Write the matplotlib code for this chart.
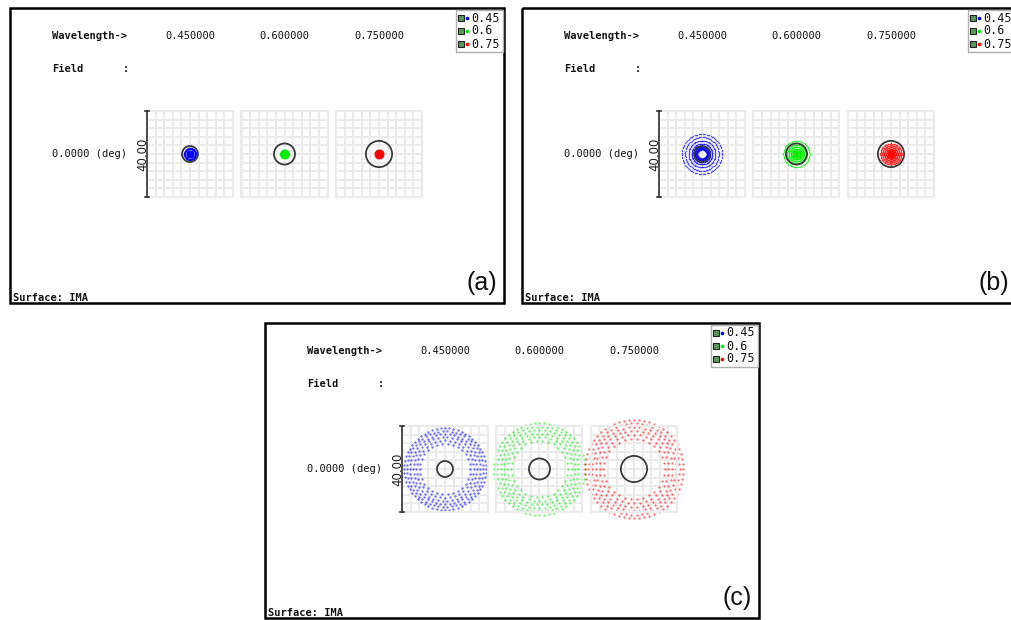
import numpy as np
import matplotlib
matplotlib.use("Agg")
import matplotlib.pyplot as plt
from matplotlib.patches import Rectangle, Circle

W, H = 1012, 620

# === Data ===
wavelengths = [0.45, 0.6, 0.75]
wave_labels = ["0.450000", "0.600000", "0.750000"]
legend_labels = ["0.45", "0.6", "0.75"]
spot_colors = ["#0000ff", "#00ee00", "#ff0000"]
airy_radius = [3.7, 4.9, 6.1]          # um
box_size = 40.0                         # um, scale bar value
panel_names = ["(a)", "(b)", "(c)"]

# ring radii (um) of each spot, per panel and wavelength
rings_a_blue = [2.7, 2.4, 1.5, 0.8, 0.2]
rings_a_green = [1.9, 1.6, 1.3, 1.0, 0.7, 0.4, 0.1]
rings_a_red = [1.9, 1.6, 1.3, 0.9, 0.6]
rings_b_blue = [9.3, 7.8, 6.2, 4.8, 3.8, 3.3, 2.7, 2.2]
rings_b_green = [6.1, 4.3, 3.4, 2.5, 1.7, 0.9, 0.3]
rings_b_red = [4.9, 4.0, 3.1, 2.2, 1.4, 0.7, 0.2]
rings_c_blue = [11.8, 13.3, 14.8, 16.2, 17.6, 19.0]
rings_c_green = [13.2, 14.9, 16.5, 18.1, 19.7, 21.3]
rings_c_red = [14.2, 16.0, 17.8, 19.5, 21.2, 22.9]
# points per ring
count_dense = 90
counts_c = [30, 36, 42, 48, 54, 60]

# === Layout (pixels) ===
origins = [(10, 8), (522, 8), (265, 323)]
PW, PH = 494, 295

fig = plt.figure(figsize=(W / 100, H / 100), dpi=100)
bg = fig.add_axes([0, 0, 1, 1])
bg.set_xlim(0, W)
bg.set_ylim(H, 0)
bg.axis("off")
bg.set_zorder(10)

mono = "DejaVu Sans Mono"


def spot_axes(px, py, size):
    ax = fig.add_axes([px / W, 1 - (py + size) / H, size / W, size / H])
    half = box_size / 2
    ax.set_xlim(-half, half)
    ax.set_ylim(-half, half)
    ticks = np.linspace(-half, half, 11)
    ax.set_xticks(ticks)
    ax.set_yticks(ticks)
    ax.tick_params(length=0, labelbottom=False, labelleft=False)
    ax.grid(True, color="#ebebeb", lw=1.5)
    for s in ax.spines.values():
        s.set_color("#ebebeb")
        s.set_linewidth(1.5)
    ax.patch.set_alpha(0)
    ax.set_axisbelow(True)
    return ax


def draw_spot(ax, radii, counts, color, airy, ms, alpha):
    for r, n in zip(radii, counts):
        ang = np.arange(n) * 2 * np.pi / n
        ax.plot(r * np.cos(ang), r * np.sin(ang), ls="none", marker="o",
                ms=ms, mew=0, color=color, alpha=alpha, clip_on=False)
    ax.add_patch(Circle((0, 0), airy, fill=False, ec="#3a3a3a", lw=1.3,
                        clip_on=False, zorder=5))


panel_rings = [
    [rings_a_blue, rings_a_green, rings_a_red],
    [rings_b_blue, rings_b_green, rings_b_red],
    [rings_c_blue, rings_c_green, rings_c_red],
]

for p, (ox, oy) in enumerate(origins):
    # border
    bg.add_patch(Rectangle((ox, oy), PW, PH, fill=False, ec="black", lw=1.8))

    bg.text(ox + 42, oy + 28, "Wavelength->", family=mono, fontsize=7.5,
            fontweight="bold", va="center", ha="left", color="#111")
    for i, lab in enumerate(wave_labels):
        bg.text(ox + 180 + 94.5 * i, oy + 28, lab, family=mono, fontsize=7.5,
                va="center", ha="center", color="#111")
    bg.text(ox + 42, oy + 61, "Field", family=mono, fontsize=7.5,
            fontweight="bold", va="center", ha="left", color="#111")
    bg.text(ox + 116, oy + 61, ":", family=mono, fontsize=7.5,
            fontweight="bold", va="center", ha="center", color="#111")
    bg.text(ox + 42, oy + 146, "0.0000 (deg)", family=mono, fontsize=7.5,
            va="center", ha="left", color="#111")

    # scale bar
    bx, by0, by1 = ox + 137, oy + 103, oy + 189
    bg.plot([bx, bx], [by0, by1], color="#333", lw=1.2)
    bg.plot([bx - 2, bx + 2], [by0, by0], color="#333", lw=1.2)
    bg.plot([bx - 2, bx + 2], [by1, by1], color="#333", lw=1.2)
    bg.text(bx - 4, oy + 146, "%.2f" % box_size, rotation=90, fontsize=8.5,
            va="center", ha="center", color="#222")

    # spot boxes
    for i in range(3):
        ax = spot_axes(ox + 137 + 94.5 * i, oy + 103, 86)
        radii = panel_rings[p][i]
        if p == 2:
            draw_spot(ax, radii, counts_c, spot_colors[i], airy_radius[i],
                      1.7, 0.55)
        else:
            draw_spot(ax, radii, [count_dense] * len(radii), spot_colors[i],
                      airy_radius[i], 1.05, 0.65)

    # legend
    bg.add_patch(Rectangle((ox + 446, oy + 2), 47, 42, fc="white",
                           ec="#b0b0b0", lw=1, zorder=3))
    for i, lab in enumerate(legend_labels):
        ry = oy + 10 + 13 * i
        bg.plot(ox + 451, ry, marker="s", ms=4, mfc="#5a9a5a", mec="#222",
                mew=0.8, zorder=4)
        bg.plot(ox + 457, ry, marker="o", ms=2.6, mew=0, color=spot_colors[i],
                zorder=4)
        bg.text(ox + 461, ry, lab, family=mono, fontsize=8.5, va="center",
                ha="left", color="#111", zorder=4)

    bg.text(ox + 3, oy + 293, "Surface: IMA", family=mono, fontsize=7.5,
            fontweight="bold", va="baseline", ha="left", color="#111")
    bg.text(ox + 487, oy + 275, panel_names[p], family="Liberation Sans",
            fontsize=18, va="center", ha="right", color="#111")

fig.savefig("out.png", dpi=100, facecolor="white")
